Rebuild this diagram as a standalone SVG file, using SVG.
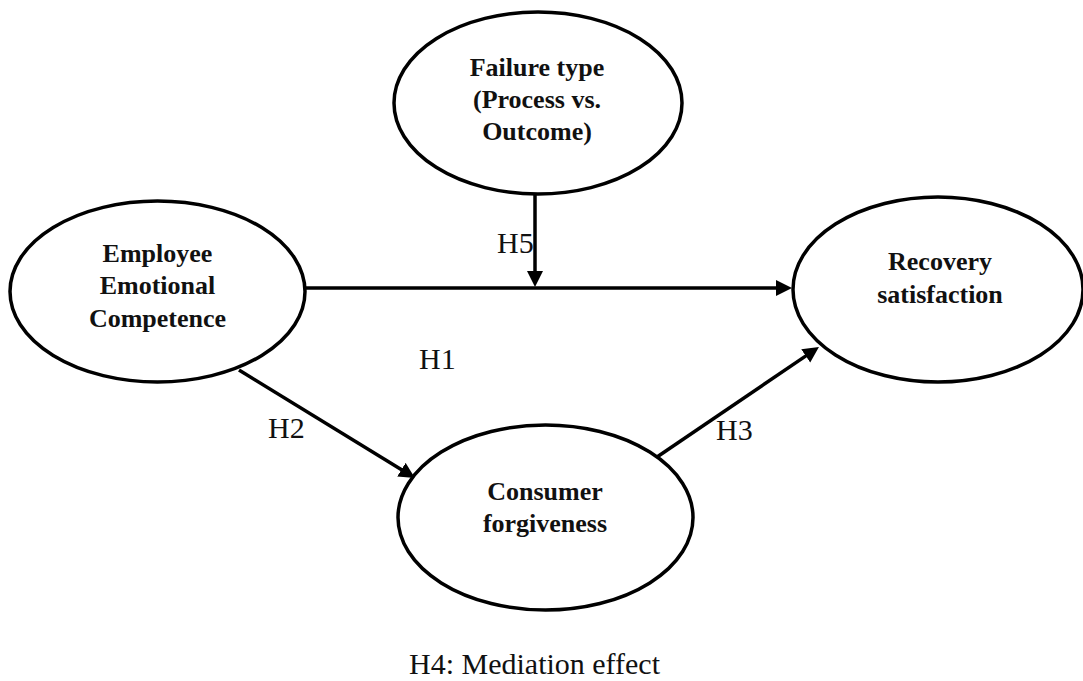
<svg xmlns="http://www.w3.org/2000/svg" width="1083" height="681" viewBox="0 0 1083 681">
<style>
.node{fill:#fff;stroke:#000;stroke-width:3.5}
.nt{font-family:"Liberation Serif","Times New Roman",serif;font-weight:bold;font-size:26px;fill:#111;text-anchor:middle}
.lbl{font-family:"Liberation Serif","Times New Roman",serif;font-size:30px;fill:#111}
.edge{stroke:#000;stroke-width:3.5;fill:none;marker-end:url(#ah)}
</style>
<defs>
<marker id="ah" markerUnits="userSpaceOnUse" markerWidth="18" markerHeight="18" refX="6" refY="8" orient="auto">
<path d="M0,0 L16,8 L0,16 Z" fill="#000"/>
</marker>
</defs>
<rect width="1083" height="681" fill="#fff"/>
<g id="connectors">
<line class="edge" x1="305" y1="288" x2="782" y2="288"/>
<line class="edge" x1="535" y1="195" x2="535" y2="277"/>
<line class="edge" x1="239" y1="370" x2="406.5" y2="472.8"/>
<line class="edge" x1="657" y1="457" x2="810.7" y2="352.6"/>
<text class="lbl" x="497" y="253">H5</text>
<text class="lbl" x="419" y="369">H1</text>
<text class="lbl" x="268" y="438">H2</text>
<text class="lbl" x="716" y="440">H3</text>
</g>
<g id="failure">
<ellipse class="node" cx="538" cy="103" rx="144" ry="91"/>
<text class="nt" x="537" y="76">Failure type</text>
<text class="nt" x="537" y="108">(Process vs.</text>
<text class="nt" x="537" y="140">Outcome)</text>
</g>
<g id="employee">
<ellipse class="node" cx="157.5" cy="291.5" rx="147.5" ry="90.5"/>
<text class="nt" x="157.5" y="262">Employee</text>
<text class="nt" x="157.5" y="294">Emotional</text>
<text class="nt" x="157.5" y="327">Competence</text>
</g>
<g id="recovery">
<ellipse class="node" cx="938" cy="289.5" rx="145" ry="92.5"/>
<text class="nt" x="940" y="270">Recovery</text>
<text class="nt" x="940" y="303">satisfaction</text>
</g>
<g id="consumer">
<ellipse class="node" cx="545.5" cy="517.5" rx="147.5" ry="92.5"/>
<text class="nt" x="545" y="500">Consumer</text>
<text class="nt" x="545" y="532">forgiveness</text>
</g>
<text class="lbl" x="534.5" y="674" text-anchor="middle" font-size="31">H4: Mediation effect</text>
</svg>
